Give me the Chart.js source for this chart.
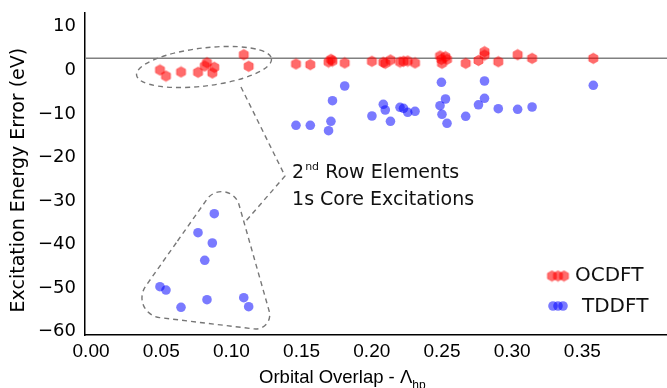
<!DOCTYPE html>
<html>
<head>
<meta charset="utf-8">
<script src="https://cdn.jsdelivr.net/npm/chart.js@4.4.1/dist/chart.umd.min.js"></script>
<style>
  html, body { margin: 0; padding: 0; background: #fff; overflow: hidden; }
  #wrap { width: 667px; height: 388px; position: relative; }
</style>
</head>
<body>
<div id="wrap"><canvas id="myChart"></canvas></div>
<script>
// orbital overlap (x) for each excitation, with the error of each method
var overlap = [0.0491, 0.0534, 0.0641, 0.0762, 0.0810, 0.0826, 0.0864, 0.0878, 0.1088, 0.1123,
    0.1460, 0.1562, 0.1692, 0.1709, 0.1720, 0.1807, 0.2001, 0.2082, 0.2096, 0.2133,
    0.2201, 0.2226, 0.2256, 0.2308, 0.2486, 0.2496, 0.2500, 0.2525, 0.2536, 0.2669,
    0.2760, 0.2803, 0.2803, 0.2901, 0.3039, 0.3142, 0.3578]
var ocdft = [0.07, -1.31, -0.39, -0.46, 0.99, 1.74, -0.62, 0.69, 3.58, 0.92,
    1.45, 1.29, 1.90, 2.52, 2.13, 1.68, 2.07, 1.84, 1.61, 2.36,
    1.90, 2.07, 2.13, 1.68, 3.28, 2.52, 1.61, 3.12, 2.52, 1.61,
    2.25, 4.27, 3.51, 1.97, 3.58, 2.75, 2.75]
var tddft = [-49.67, -50.43, -54.39, -37.27, -43.61, -52.65, -39.64, -32.91, -52.19, -54.26,
    -12.62, -12.62, -13.86, -11.71, -6.98, -3.60, -10.49, -7.80, -9.11, -11.71,
    -8.49, -8.72, -9.64, -9.41, -8.12, -2.75, -10.10, -6.59, -12.16, -10.56,
    -7.92, -2.46, -6.43, -8.81, -8.95, -8.42, -3.44]
var xTicks = [0, 0.05, 0.10, 0.15, 0.20, 0.25, 0.30, 0.35]
var yTicks = [-60, -50, -40, -30, -20, -10, 0, 10]
var refLine = 2.75

var xMin = -0.0043, xMax = 0.4103
var yMin = -60.75, yMax = 13.15

function hexCanvas(r, fill, stroke) {
    var s = Math.ceil(2 * r + 2)
    var c = document.createElement('canvas')
    c.width = s
    c.height = s
    var g = c.getContext('2d')
    g.beginPath()
    for (var i = 0; i < 6; i++) {
        var a = -Math.PI / 2 + i * Math.PI / 3
        var px = s / 2 + r * Math.cos(a), py = s / 2 + r * Math.sin(a)
        if (i) g.lineTo(px, py); else g.moveTo(px, py)
    }
    g.closePath()
    g.fillStyle = fill
    g.fill()
    g.strokeStyle = stroke
    g.lineWidth = 1
    g.stroke()
    return c
}

var hex = hexCanvas(5.3, 'rgba(255,0,0,0.58)', 'rgba(255,0,0,0.35)')
var blue = 'rgba(0,0,255,0.52)'
var labelFont = '"DejaVu Sans"'

function pts(ys) {
    return overlap.map(function(x, i) { return { x: x, y: ys[i] } })
}

function noPad(s) {
    s.paddingTop = 0
    s.paddingBottom = 0
    s.paddingLeft = 0
    s.paddingRight = 0
}

var annotations = {
    id: 'annotations',
    afterDatasetsDraw: function(chart) {
        var ctx = chart.ctx
        var xs = chart.scales.x, ys = chart.scales.y
        var X = function(v) { return xs.getPixelForValue(v) }
        var Y = function(v) { return ys.getPixelForValue(v) }
        var area = chart.chartArea

        ctx.save()
        ctx.strokeStyle = '#777'
        ctx.lineWidth = 1.4
        ctx.setLineDash([5, 4])

        // ellipse round the OCDFT 2nd row points
        var cx = X(0.0805), cy = Y(0.76)
        ctx.beginPath()
        ctx.ellipse(cx, cy, X(0.0805 + 0.0484) - cx, cy - Y(0.76 + 4.36), -0.12, 0, Math.PI * 2)
        ctx.stroke()

        // callout
        ctx.beginPath()
        ctx.moveTo(X(0.1068), Y(-3.83))
        ctx.lineTo(X(0.1382), Y(-24.26))
        ctx.lineTo(X(0.1097), Y(-34.82))
        ctx.stroke()

        // rounded triangle round the TDDFT 2nd row points
        var v1 = [X(0.0981), Y(-22.52)], v2 = [X(0.0251), Y(-55.84)], v3 = [X(0.1310), Y(-59.93)]
        var m = [(v1[0] + v2[0]) / 2, (v1[1] + v2[1]) / 2]
        ctx.beginPath()
        ctx.moveTo(m[0], m[1])
        ctx.arcTo(v1[0], v1[1], v3[0], v3[1], 18)
        ctx.arcTo(v3[0], v3[1], v2[0], v2[1], 14)
        ctx.arcTo(v2[0], v2[1], v1[0], v1[1], 20)
        ctx.closePath()
        ctx.stroke()
        ctx.setLineDash([])

        // label text
        ctx.fillStyle = '#111'
        ctx.textBaseline = 'alphabetic'
        ctx.textAlign = 'left'
        var tx = X(0.1432)
        ctx.font = '19px ' + labelFont
        ctx.fillText('2', tx, Y(-23.1) + 7)
        var w2 = ctx.measureText('2').width
        ctx.font = '11px ' + labelFont
        ctx.fillText('nd', tx + w2 + 1, Y(-23.1) - 1)
        var wnd = ctx.measureText('nd').width
        ctx.font = '19px ' + labelFont
        ctx.fillText(' Row Elements', tx + w2 + wnd + 1, Y(-23.1) + 7)
        ctx.fillText('1s Core Excitations', tx, Y(-29.3) + 7)

        // legend
        var lx = area.right - 109
        var r1 = area.bottom - 59, r2 = area.bottom - 29
        ;[-6, 0, 6].forEach(function(d) {
            ctx.drawImage(hex, lx + d - hex.width / 2, r1 - hex.height / 2)
        })
        ctx.fillStyle = blue
        ;[-5, 0, 5].forEach(function(d) {
            ctx.beginPath()
            ctx.arc(lx + d, r2, 4.8, 0, Math.PI * 2)
            ctx.fill()
        })
        ctx.fillStyle = '#111'
        ctx.font = '20px ' + labelFont
        ctx.textBaseline = 'middle'
        ctx.fillText('OCDFT', area.right - 92, r1)
        ctx.fillText('TDDFT', area.right - 85, r2 + 1)

        // x axis title with subscript
        ctx.fillStyle = '#000'
        ctx.textBaseline = 'alphabetic'
        ctx.font = '18.5px "Liberation Sans"'
        var t = 'Orbital Overlap - \u039b'
        var tx2 = X(0.1197)
        ctx.fillText(t, tx2, 383)
        var tw = ctx.measureText(t).width
        ctx.font = '12px "Liberation Sans"'
        ctx.fillText('hp', tx2 + tw, 389)

        // y axis title
        ctx.translate(19, Y(-25.2))
        ctx.rotate(-Math.PI / 2)
        ctx.textAlign = 'center'
        ctx.textBaseline = 'middle'
        ctx.font = '19px "DejaVu Sans"'
        ctx.fillText('Excitation Energy Error (eV)', 0, 0)
        ctx.restore()
    }
}

var myChart = document.getElementById('myChart').getContext('2d')

var chart = new Chart(myChart, {
    type: 'scatter',
    data: {
        datasets: [{
                type: 'line',
                label: 'zero',
                data: [{ x: xMin, y: refLine }, { x: xMax, y: refLine }],
                borderColor: '#808080',
                borderWidth: 1.5,
                pointRadius: 0,
                order: 3
            },
            {
                label: 'OCDFT',
                data: pts(ocdft),
                pointStyle: hex,
                pointRadius: 5,
                order: 2
            },
            {
                label: 'TDDFT',
                data: pts(tddft),
                backgroundColor: blue,
                borderWidth: 0,
                pointRadius: 4.8,
                order: 1
            }
        ]
    },
    options: {
        responsive: true,
        maintainAspectRatio: false,
        animation: false,
        devicePixelRatio: 1,
        layout: { autoPadding: false, padding: { top: 13, right: 0, left: 0, bottom: 0 } },
        plugins: {
            legend: { display: false },
            tooltip: { enabled: false }
        },
        scales: {
            x: {
                type: 'linear',
                min: xMin,
                max: xMax,
                afterBuildTicks: function(s) { s.ticks = xTicks.map(function(v) { return { value: v } }) },
                afterFit: function(s) { s.height = 53; noPad(s) },
                ticks: {
                    callback: function(v) { return v.toFixed(2) },
                    font: { family: 'Liberation Sans', size: 19 },
                    color: '#000',
                    padding: 5,
                    maxRotation: 0,
                    autoSkip: false
                },
                grid: { display: false, drawTicks: false },
                border: { color: '#000', width: 1.5 }
            },
            y: {
                min: yMin,
                max: yMax,
                afterBuildTicks: function(s) { s.ticks = yTicks.map(function(v) { return { value: v } }) },
                afterFit: function(s) { s.width = 85; noPad(s) },
                ticks: {
                    callback: function(v) { return v < 0 ? '\u2212' + (-v) : '' + v },
                    font: { family: 'DejaVu Sans', size: 18 },
                    color: '#000',
                    padding: 9
                },
                grid: { display: false, drawTicks: false },
                border: { color: '#000', width: 1.5 }
            }
        }
    },
    plugins: [annotations]
})
</script>
</body>
</html>
